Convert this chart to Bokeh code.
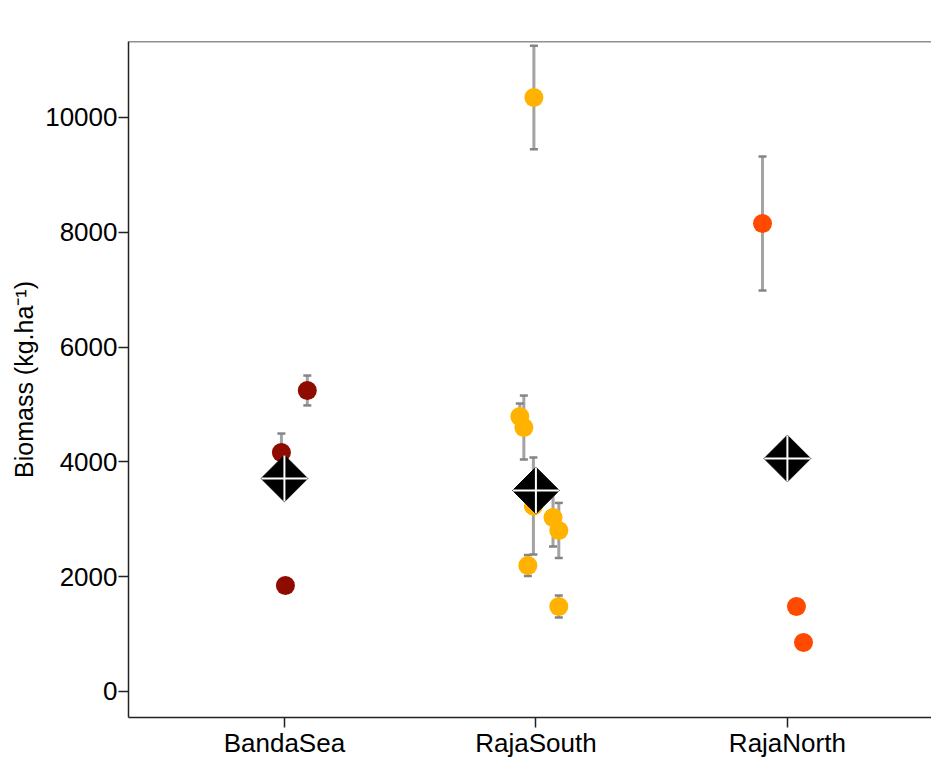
import numpy as np
from bokeh.plotting import figure
from bokeh.models import ColumnDataSource, Whisker, TeeHead, FixedTicker, Span
from bokeh.embed import file_html
from bokeh.resources import INLINE

# ---- data ----
sites = ["BandaSea", "RajaSouth", "RajaNorth"]
site_colors = ["#8E0B00", "#FFB300", "#FF4A00"]

point_site = ["BandaSea", "BandaSea", "BandaSea",
              "RajaSouth", "RajaSouth", "RajaSouth", "RajaSouth",
              "RajaSouth", "RajaSouth", "RajaSouth", "RajaSouth",
              "RajaNorth", "RajaNorth", "RajaNorth"]
point_jitter = [-0.012, 0.091, 0.004,
                -0.008, -0.064, -0.048, -0.010,
                0.068, 0.091, -0.032, 0.091,
                -0.099, 0.036, 0.064]
point_biomass = [4164, 5244, 1847,
                 10348, 4791, 4599, 3232,
                 3031, 2805, 2195, 1481,
                 8153, 1481, 854]
point_err = [330, 260, 0,
             900, 226, 557, 845,
             505, 480, 185, 190,
             1167, 0, 0]

mean_biomass = [3711, 3502, 4059]

y_ticks = [0, 2000, 4000, 6000, 8000, 10000]

# ---- derived ----
site_idx = {s: i + 1 for i, s in enumerate(sites)}
px = [site_idx[s] + j for s, j in zip(point_site, point_jitter)]
pcol = [site_colors[sites.index(s)] for s in point_site]
src_pts = ColumnDataSource(dict(x=px, y=point_biomass, c=pcol))

eb = [(x, y, e) for x, y, e in zip(px, point_biomass, point_err) if e > 0]
src_err = ColumnDataSource(dict(
    x=[a[0] for a in eb],
    lower=[a[1] - a[2] for a in eb],
    upper=[a[1] + a[2] for a in eb]))

src_mean = ColumnDataSource(dict(x=[site_idx[s] for s in sites], y=mean_biomass))

p = figure(width=931, height=760, x_range=(0.38, 3.573), y_range=(-453, 11324),
           output_backend="svg", toolbar_location=None,
           min_border_left=128, min_border_right=0, min_border_top=41, min_border_bottom=43)
p.grid.visible = False
p.outline_line_color = None
p.background_fill_color = "white"
p.border_fill_color = "white"

# error bars
wh = Whisker(source=src_err, base="x", upper="upper", lower="lower", dimension="height",
             line_color="#A3A3A3", line_width=3,
             upper_head=TeeHead(size=8, line_color="#858585", line_width=2.5),
             lower_head=TeeHead(size=8, line_color="#858585", line_width=2.5))
p.add_layout(wh)

p.scatter("x", "y", source=src_pts, size=19, fill_color="c", line_color="c", line_width=0)

p.scatter("x", "y", source=src_mean, marker="square", angle=np.pi / 4, size=33,
          fill_color="black", line_color="black")
p.scatter("x", "y", source=src_mean, marker="cross", size=46, line_color="white", line_width=2)

# top frame line
p.add_layout(Span(location=11324, dimension="width", line_color="#222222", line_width=1.5))

font = "Liberation Sans"
p.xaxis.ticker = FixedTicker(ticks=[1, 2, 3])
p.xaxis.major_label_overrides = {i + 1: s for i, s in enumerate(sites)}
p.yaxis.ticker = FixedTicker(ticks=y_ticks)
p.yaxis.axis_label = "Biomass (kg.ha\u207b\u00b9)"

for ax in (p.xaxis[0], p.yaxis[0]):
    ax.axis_line_color = "#222222"
    ax.axis_line_width = 1.5
    ax.major_tick_line_color = "#222222"
    ax.major_tick_line_width = 1.5
    ax.major_tick_in = 0
    ax.minor_tick_line_color = None
    ax.major_label_text_font = font
    ax.major_label_text_font_size = "26px"
    ax.major_label_text_color = "black"

p.xaxis.major_tick_out = 10
p.xaxis.major_label_standoff = 0
p.yaxis.major_tick_out = 10
p.yaxis.major_label_standoff = 1
p.yaxis.axis_label_text_font = font
p.yaxis.axis_label_text_font_size = "25px"
p.yaxis.axis_label_text_font_style = "normal"
p.yaxis.axis_label_text_color = "black"
p.yaxis.axis_label_standoff = 4

open("out.html", "w").write(file_html(p, INLINE))
